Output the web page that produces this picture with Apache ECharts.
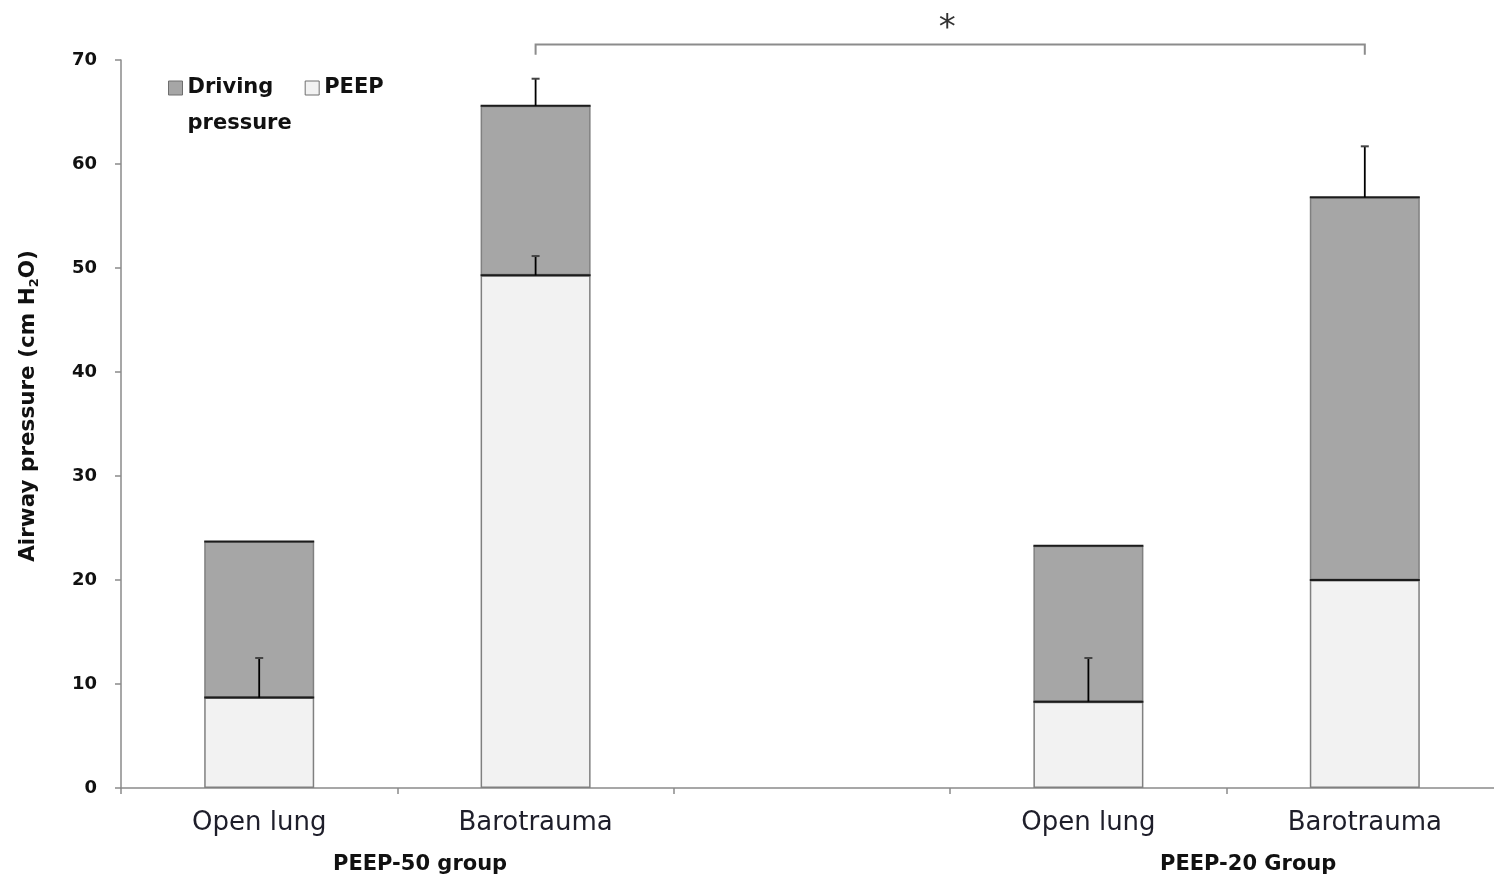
<!DOCTYPE html>
<html>
<head>
<meta charset="utf-8">
<title>Airway pressure by group</title>
<script src="https://cdn.jsdelivr.net/npm/echarts@6/dist/echarts.min.js"></script>
<style>
  html, body { margin: 0; padding: 0; background: #ffffff; }
  #chart { width: 1494px; height: 876px; }
</style>
</head>
<body>
<div id="chart"></div>
<script>
// Category slots along the x axis (the empty slot separates the two groups)
const categories = ['Open lung', 'Barotrauma', '', 'Open lung', 'Barotrauma'];
const groupLabels = ['PEEP-50 group', 'PEEP-20 Group'];

// Mean PEEP and driving pressure (cm H2O); stacked, total = plateau pressure
const peep = [8.7, 49.3, null, 8.3, 20.0];
const driving = [15.0, 16.3, null, 15.0, 36.8];

// Upper SD whiskers: on PEEP and on total (PEEP + driving pressure)
const peepErr = [3.8, 1.85, null, 4.2, null];
const totalErr = [null, 2.6, null, null, 4.9];

// Significance bracket between the two barotrauma bars
const bracket = { from: 1, to: 4, level: 71.5, drop: 1.0, mark: '*', markLevel: 73.0 };

const yTicks = { min: 0, max: 70, interval: 10 };

const FONT = 'DejaVu Sans';
const BAR_W = 110;
const C_DRIVE = '#a6a6a6';
const C_PEEP = '#f2f2f2';
const C_EDGE = '#808080';
const C_TOP = '#1c1c1c';
const C_AXIS = '#8a8a8a';

const totals = peep.map((p, i) => (p == null ? null : p + driving[i]));

// Rows for the custom layer: [index, segment top, whisker length]
const edgeRows = [];
peep.forEach((p, i) => {
  if (p == null) return;
  edgeRows.push([i, p, peepErr[i] || 0]);
  edgeRows.push([i, totals[i], totalErr[i] || 0]);
});

const chart = echarts.init(document.getElementById('chart'), null, { renderer: 'canvas' });

chart.setOption({
  backgroundColor: '#ffffff',
  animation: false,
  textStyle: { fontFamily: FONT },
  // the last category slot runs slightly past the right edge
  grid: { left: 121, top: 60, width: 1382, height: 728, containLabel: false, outerBoundsMode: 'none' },
  legend: {
    left: 168,
    top: 34,
    padding: 0,
    itemWidth: 14,
    itemHeight: 14,
    itemGap: 13,
    icon: 'rect',
    selectedMode: false,
    data: [
      { name: 'Driving pressure', itemStyle: { color: C_DRIVE, borderColor: '#6e6e6e', borderWidth: 1 } },
      { name: 'PEEP', itemStyle: { color: C_PEEP, borderColor: '#6e6e6e', borderWidth: 1 } }
    ],
    // leading blank line keeps the first word level with the swatch
    formatter: name => (name.indexOf(' ') > 0 ? '\n' + name.replace(' ', '\n') : name),
    textStyle: {
      fontFamily: FONT,
      fontWeight: 'bold',
      fontSize: 21,
      color: '#111111',
      lineHeight: 36
    }
  },
  xAxis: {
    type: 'category',
    data: categories,
    axisLine: { lineStyle: { color: C_AXIS, width: 1.5 } },
    axisTick: { show: true, length: 6, inside: false, alignWithLabel: false, lineStyle: { color: C_AXIS, width: 1.5 } },
    axisLabel: { interval: 0, margin: 22, fontFamily: FONT, fontSize: 26, color: '#1e1e2a' },
    splitLine: { show: false }
  },
  yAxis: {
    type: 'value',
    min: yTicks.min,
    max: yTicks.max,
    interval: yTicks.interval,
    name: 'Airway pressure (cm H{sub|2}O)',
    nameLocation: 'middle',
    nameRotate: 90,
    nameGap: 80,
    nameTextStyle: {
      fontFamily: FONT,
      fontWeight: 'bold',
      fontSize: 21.5,
      color: '#111111',
      padding: [0, 0, 0, 36],
      rich: {
        sub: { fontFamily: FONT, fontWeight: 'bold', fontSize: 13, color: '#111111', verticalAlign: 'bottom', padding: [12, 0, 0, 0] }
      }
    },
    axisLine: { show: true, lineStyle: { color: C_AXIS, width: 1.5 } },
    axisTick: { show: true, length: 6, lineStyle: { color: C_AXIS, width: 1.5 } },
    axisLabel: { margin: 24, fontFamily: FONT, fontWeight: 'bold', fontSize: 18, color: '#111111' },
    splitLine: { show: false }
  },
  graphic: groupLabels.map((t, k) => ({
    type: 'text',
    left: k === 0 ? 333 : 1160,
    top: 854,
    silent: true,
    style: { text: t, fontFamily: FONT, fontWeight: 'bold', fontSize: 21, fill: '#111111' }
  })),
  series: [
    {
      name: 'PEEP',
      type: 'bar',
      stack: 'airway',
      barWidth: BAR_W,
      data: peep,
      itemStyle: { color: C_PEEP, borderColor: C_EDGE, borderWidth: 1.5 },
      z: 2
    },
    {
      name: 'Driving pressure',
      type: 'bar',
      stack: 'airway',
      barWidth: BAR_W,
      data: driving,
      itemStyle: { color: C_DRIVE, borderColor: C_EDGE, borderWidth: 1.5 },
      z: 2
    },
    {
      // dark top edge of each segment plus its upward SD whisker
      type: 'custom',
      silent: true,
      z: 5,
      data: edgeRows,
      renderItem: (params, api) => {
        const i = api.value(0);
        const top = api.value(1);
        const err = api.value(2);
        const p = api.coord([i, top]);
        const children = [{
          type: 'line',
          shape: { x1: p[0] - BAR_W / 2, y1: p[1], x2: p[0] + BAR_W / 2, y2: p[1] },
          style: { stroke: C_TOP, lineWidth: 2 }
        }];
        if (err > 0) {
          const q = api.coord([i, top + err]);
          children.push({
            type: 'line',
            shape: { x1: p[0], y1: p[1], x2: q[0], y2: q[1] },
            style: { stroke: '#000000', lineWidth: 1.8 }
          });
          children.push({
            type: 'line',
            shape: { x1: q[0] - 4, y1: q[1], x2: q[0] + 4, y2: q[1] },
            style: { stroke: '#444444', lineWidth: 2 }
          });
        }
        return { type: 'group', children };
      }
    },
    {
      // significance bracket with its marker
      type: 'custom',
      silent: true,
      z: 5,
      clip: false,
      data: [[bracket.from, bracket.to, bracket.level, bracket.drop, bracket.markLevel]],
      renderItem: (params, api) => {
        const a = api.coord([api.value(0), api.value(2)]);
        const b = api.coord([api.value(1), api.value(2)]);
        const a0 = api.coord([api.value(0), api.value(2) - api.value(3)]);
        const b0 = api.coord([api.value(1), api.value(2) - api.value(3)]);
        const m = api.coord([api.value(0), api.value(4)]);
        return {
          type: 'group',
          children: [
            {
              type: 'polyline',
              shape: { points: [[a0[0], a0[1]], a, b, [b0[0], b0[1]]] },
              style: { stroke: '#8c8c8c', lineWidth: 2, fill: null }
            },
            {
              type: 'text',
              x: (a[0] + b[0]) / 2 - 3,
              y: m[1],
              style: {
                text: bracket.mark,
                fontFamily: FONT,
                fontSize: 34,
                fill: '#333333',
                align: 'center',
                verticalAlign: 'middle'
              }
            }
          ]
        };
      }
    }
  ]
});
</script>
</body>
</html>
